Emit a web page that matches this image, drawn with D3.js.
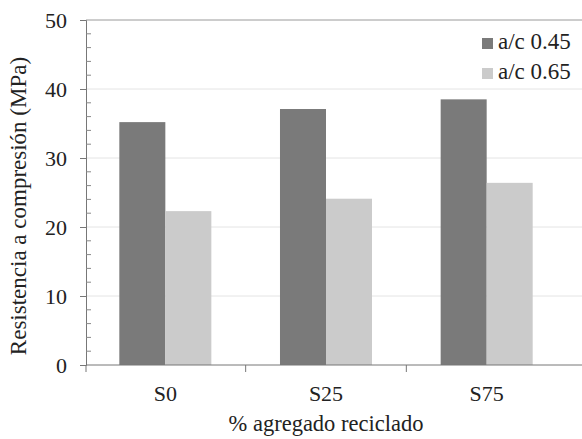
<!DOCTYPE html>
<html><head><meta charset="utf-8">
<script src="https://cdn.jsdelivr.net/npm/d3@7"></script>
<style>body{margin:0;background:#fff}svg{display:block}</style>
</head><body>
<svg id="c" width="582" height="439"></svg>
<script>
const categories = ["S0", "S25", "S75"];
const seriesNames = ["a/c 0.45", "a/c 0.65"];
const values045 = [35.2, 37.1, 38.5];
const values065 = [22.3, 24.1, 26.4];
const yTicks = [0, 10, 20, 30, 40, 50];
const colors = ["#7a7a7a", "#cbcbcb"];

const FONT = '"Liberation Serif", Tinos, serif';
const svg = d3.select("#c");
const x0 = d3.scaleBand().domain(categories).range([85, 567]).padding(0);
const x1 = d3.scaleBand().domain(seriesNames).range([0, x0.bandwidth()]).paddingInner(0).paddingOuter(0.746);
const y = d3.scaleLinear().domain([0, 50]).range([365, 20]);
const series = [values045, values065];

function styleText(sel, size) {
  sel.style("font-family", FONT).style("font-size", size + "px").style("fill", "#222");
}

// gridlines
svg.append("g").selectAll("line").data(yTicks.filter(t => t > 0)).join("line")
  .attr("x1", 86).attr("x2", 582).attr("y1", d => y(d)).attr("y2", d => y(d))
  .attr("stroke", d => d === 50 ? "#9a9a9a" : "#e4e4e4").attr("stroke-width", 1);

// bars
categories.forEach((c, i) => {
  seriesNames.forEach((s, j) => {
    svg.append("rect")
      .attr("x", x0(c) + x1(s)).attr("width", x1.bandwidth())
      .attr("y", y(series[j][i])).attr("height", y(0) - y(series[j][i]))
      .attr("fill", colors[j]);
  });
});

// y axis
const yAxis = svg.append("g").attr("transform", "translate(86,0)")
  .call(d3.axisLeft(y).tickValues(yTicks).tickSize(6).tickPadding(13));
yAxis.select(".domain").attr("stroke", "#777");
yAxis.selectAll(".tick line").attr("stroke", "#777");
styleText(yAxis.selectAll("text"), 22);
// minor ticks
svg.append("g").selectAll("line").data(d3.range(2, 50, 2).filter(v => v % 10 !== 0)).join("line")
  .attr("x1", 86).attr("x2", 91).attr("y1", d => y(d)).attr("y2", d => y(d))
  .attr("stroke", "#888");

// x axis
const xAxis = svg.append("g").attr("transform", "translate(0,365)")
  .call(d3.axisBottom(x0).tickSize(0).tickPadding(0));
xAxis.select(".domain").remove();
xAxis.selectAll("text").attr("dy", null).attr("y", 36);
styleText(xAxis.selectAll("text"), 22);
svg.append("line").attr("x1", 86).attr("x2", 582).attr("y1", 365).attr("y2", 365).attr("stroke", "#777");
const bounds = [86].concat(categories.slice(1).map(c => x0(c)));
svg.append("g").selectAll("line").data(bounds).join("line")
  .attr("x1", d => d).attr("x2", d => d).attr("y1", 365).attr("y2", 372).attr("stroke", "#777");

// titles
styleText(svg.append("text").attr("x", x0.range()[0] + (x0.range()[1] - x0.range()[0]) / 2).attr("y", 431)
  .attr("text-anchor", "middle").text("% agregado reciclado"), 22.5);
styleText(svg.append("text").attr("transform", "translate(26,206) rotate(-90)")
  .attr("text-anchor", "middle").text("Resistencia a compresión (MPa)"), 23);

// legend
seriesNames.forEach((s, j) => {
  const g = svg.append("g").attr("transform", `translate(482,${38 + j * 30})`);
  g.append("rect").attr("width", 11).attr("height", 11).attr("fill", colors[j]);
  styleText(g.append("text").attr("x", 16).attr("y", 11).text(s), 23);
});
</script>
</body></html>
